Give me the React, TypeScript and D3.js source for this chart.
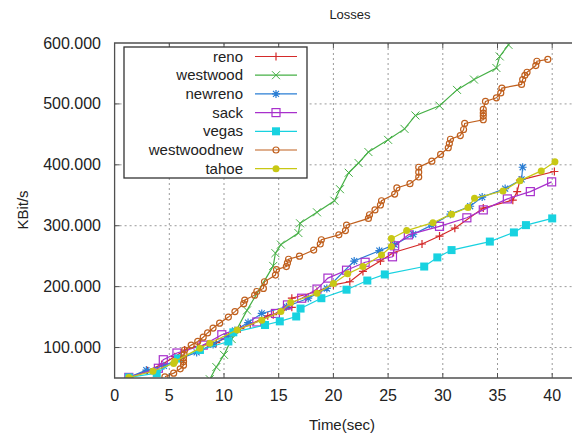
import React from 'react'
import * as d3 from 'd3'

// Readings: [time (sec), KBit/s]
const reno: [number, number][] = [
  [1.3, 51], [3.0, 62], [4.3, 72], [5.5, 85], [6.4, 96], [7.6, 102], [8.5, 105], [9.3, 108],
  [10.4, 118], [11.5, 131], [12.4, 138], [14.0, 152], [14.5, 154], [16.2, 166], [16.2, 181],
  [18.5, 192], [20.0, 203], [21.5, 208], [22.7, 225], [24.3, 242], [25.5, 256], [28.1, 270],
  [29.7, 283], [31.1, 296], [33.7, 329], [36.4, 342], [36.8, 356], [37.05, 375], [40.2, 389],
]
const westwood: [number, number][] = [
  [8.7, 48], [9.3, 68], [10.0, 88], [10.7, 114], [12.1, 161], [14.5, 234], [14.7, 255],
  [15.2, 269], [16.8, 288], [16.95, 304], [18.5, 322], [20.1, 341], [20.6, 360], [21.4, 387],
  [22.3, 403], [23.2, 421], [25.0, 441], [26.5, 459], [27.5, 481], [29.7, 497], [31.3, 523],
  [32.85, 540], [34.9, 559], [35.2, 578], [36.0, 597], [36.6, 615],
]
const newreno: [number, number][] = [
  [1.3, 51], [2.9, 63], [4.5, 70], [6.0, 82], [7.5, 92], [9.0, 105], [10.25, 118], [11.0, 128],
  [12.2, 141], [13.45, 156], [15.7, 167], [17.7, 181], [19.4, 197], [21.9, 242], [24.2, 259],
  [25.6, 269], [27.3, 286], [29.0, 301], [30.7, 319], [32.5, 332], [33.6, 347], [35.7, 361],
  [37.2, 376], [37.3, 396],
]
const sack: [number, number][] = [
  [1.3, 51], [4.0, 66], [4.45, 80], [5.7, 91], [8.1, 104], [9.8, 121], [13.0, 142], [14.7, 156],
  [15.8, 170], [17.1, 181], [18.5, 196], [19.5, 214], [21.2, 227], [22.9, 240], [25.4, 249],
  [25.6, 267], [26.85, 285], [29.7, 299], [32.2, 313], [33.7, 326], [35.9, 344], [38.0, 356],
  [39.95, 372],
]
const vegas: [number, number][] = [
  [1.3, 51], [3.85, 58], [5.8, 82], [7.8, 96], [10.4, 110], [10.85, 125], [13.75, 137],
  [15.1, 143], [16.6, 151], [17.0, 164], [18.9, 181], [21.2, 195], [23.1, 210], [24.7, 220],
  [28.3, 233], [29.5, 248], [30.8, 260], [34.3, 274], [36.5, 289], [37.6, 301], [40.0, 312],
]
const westwoodnew: [number, number][] = [
  [4.6, 52], [5.4, 58], [6.0, 65], [6.3, 71], [6.3, 77], [6.3, 83], [6.35, 89], [6.4, 96],
  [7.0, 104], [7.6, 110], [8.1, 117], [8.5, 124], [9.0, 132], [9.6, 140], [10.4, 150],
  [11.0, 159], [11.8, 172], [11.9, 178], [12.8, 186], [13.0, 192], [13.6, 197], [13.7, 208],
  [14.7, 219], [14.8, 228], [15.7, 233], [15.8, 239], [15.9, 245], [16.9, 250], [18.2, 260],
  [18.8, 270], [18.9, 277], [20.5, 285], [21.1, 292], [21.2, 301], [23.2, 312], [23.3, 318],
  [23.8, 326], [24.3, 334], [24.4, 341], [25.6, 352], [25.8, 362], [27.0, 369], [27.8, 380],
  [27.8, 388], [27.8, 396], [29.0, 406], [29.8, 417], [30.5, 428], [30.6, 435], [30.7, 442],
  [31.6, 448], [31.9, 458], [32.0, 468], [33.7, 474], [33.7, 480], [33.7, 485], [33.7, 491],
  [33.9, 504], [34.9, 510], [35.3, 518], [35.4, 526], [37.2, 532], [37.3, 540], [37.5, 547],
  [37.7, 552], [38.5, 563], [38.6, 570], [39.6, 573],
]
const tahoe: [number, number][] = [
  [1.3, 51], [3.5, 61], [5.4, 74], [5.5, 77], [7.8, 99], [8.7, 107], [11.2, 129], [13.45, 145],
  [15.2, 159], [16.1, 174], [18.5, 189], [20.0, 205], [21.3, 221], [22.7, 233], [24.4, 252],
  [25.3, 266], [25.3, 279], [26.7, 292], [29.1, 305], [30.8, 319], [32.3, 330], [32.9, 345],
  [35.5, 357], [37.05, 374], [39.0, 390], [40.25, 405],
]

const seriesNames = ['reno', 'westwood', 'newreno', 'sack', 'vegas', 'westwoodnew', 'tahoe']
const seriesData = [reno, westwood, newreno, sack, vegas, westwoodnew, tahoe]
const seriesColors = ['#d42a2a', '#46b046', '#2a7ed4', '#a830cc', '#18d2e0', '#c0601e', '#c8c814']
const seriesMarkers = ['plus', 'cross', 'star', 'square', 'filledSquare', 'circle', 'dot']

const yTicks = [100, 200, 300, 400, 500, 600]
const xTicks = [0, 5, 10, 15, 20, 25, 30, 35, 40]

const W = 574
const H = 434
const left = 114.6
const right = 572
const top = 43
const bottom = 378
const font = 'Liberation Sans, Arial, sans-serif'

const Marker = ({ type, x, y, color }: { type: string; x: number; y: number; color: string }) => {
  const s = 4
  switch (type) {
    case 'plus':
      return <path d={`M${x - s},${y}H${x + s}M${x},${y - s}V${y + s}`} stroke={color} strokeWidth={1.2} />
    case 'cross':
      return <path d={`M${x - s},${y - s}L${x + s},${y + s}M${x - s},${y + s}L${x + s},${y - s}`} stroke={color} strokeWidth={1} />
    case 'star':
      return (
        <path
          d={`M${x - s},${y}H${x + s}M${x},${y - s}V${y + s}M${x - 3},${y - 3}L${x + 3},${y + 3}M${x - 3},${y + 3}L${x + 3},${y - 3}`}
          stroke={color}
          strokeWidth={1.2}
        />
      )
    case 'square':
      return <rect x={x - 4} y={y - 4} width={8} height={8} fill="none" stroke={color} strokeWidth={1.2} />
    case 'filledSquare':
      return <rect x={x - 4} y={y - 4} width={8} height={8} fill={color} />
    case 'circle':
      return <circle cx={x} cy={y} r={3} fill="none" stroke={color} strokeWidth={1.2} />
    default:
      return <circle cx={x} cy={y} r={3.5} fill={color} />
  }
}

export default function App() {
  const x = d3.scaleLinear().domain([0, (right - left) / 10.94]).range([left, right])
  const y = d3.scaleLinear().domain([50, 600]).range([bottom, top])
  const line = d3
    .line<[number, number]>()
    .x((d) => x(d[0]))
    .y((d) => y(d[1]))
  const fmt = d3.format('.3f')

  return (
    <svg width={W} height={H} style={{ position: 'absolute', left: 0, top: 0, background: '#fff' }} fontFamily={font}>
      <defs>
        <clipPath id="plot">
          <rect x={left} y={top} width={right - left} height={bottom - top} />
        </clipPath>
      </defs>

      {/* grid */}
      {xTicks.slice(1).map((t) => (
        <line key={'gx' + t} x1={x(t)} x2={x(t)} y1={top} y2={bottom} stroke="#9a9a9a" strokeDasharray="2,3" />
      ))}
      {yTicks.slice(0, -1).map((t) => (
        <line key={'gy' + t} x1={left} x2={right} y1={y(t)} y2={y(t)} stroke="#9a9a9a" strokeDasharray="2,3" />
      ))}

      {/* series */}
      <g clipPath="url(#plot)">
        {seriesData.map((data, i) => (
          <g key={seriesNames[i]}>
            <path d={line(data) || ''} fill="none" stroke={seriesColors[i]} strokeWidth={1.2} />
            {data.map((d, j) => (
              <Marker key={j} type={seriesMarkers[i]} x={x(d[0])} y={y(d[1])} color={seriesColors[i]} />
            ))}
          </g>
        ))}
      </g>

      {/* frame & ticks */}
      <path d={`M${right},${top}H${left}V${bottom}H${right}`} fill="none" stroke="#505050" strokeWidth={1.3} />
      {xTicks.slice(1).map((t) => (
        <g key={'tx' + t}>
          <line x1={x(t)} x2={x(t)} y1={bottom} y2={bottom - 5} stroke="#505050" />
          <line x1={x(t)} x2={x(t)} y1={top} y2={top + 5} stroke="#505050" />
        </g>
      ))}
      {yTicks.slice(0, -1).map((t) => (
        <line key={'ty' + t} x1={left} x2={left + 5} y1={y(t)} y2={y(t)} stroke="#505050" />
      ))}

      {/* tick labels */}
      {xTicks.map((t) => (
        <text key={'lx' + t} x={x(t)} y={bottom + 23} textAnchor="middle" fontSize={16} fill="#222">
          {t}
        </text>
      ))}
      {yTicks.map((t) => (
        <text key={'ly' + t} x={101} y={y(t) + 5.5} textAnchor="end" fontSize={16} fill="#222">
          {fmt(t)}
        </text>
      ))}

      {/* titles */}
      <text x={350} y={19} textAnchor="middle" fontSize={13} fill="#222">
        Losses
      </text>
      <text x={342} y={430} textAnchor="middle" fontSize={15} fill="#222">
        Time(sec)
      </text>
      <text transform="translate(28,210) rotate(-90)" textAnchor="middle" fontSize={15} fill="#222">
        KBit/s
      </text>

      {/* legend */}
      <rect x={124} y={47} width={183} height={131} fill="#fff" stroke="#333" strokeWidth={1.3} />
      {seriesNames.map((name, i) => {
        const ly = 56.5 + i * 18.7
        return (
          <g key={'lg' + name}>
            <text x={243} y={ly + 5} textAnchor="end" fontSize={15} fill="#222">
              {name}
            </text>
            <line x1={255} x2={297} y1={ly} y2={ly} stroke={seriesColors[i]} strokeWidth={1.2} />
            <Marker type={seriesMarkers[i]} x={276} y={ly} color={seriesColors[i]} />
          </g>
        )
      })}
    </svg>
  )
}
